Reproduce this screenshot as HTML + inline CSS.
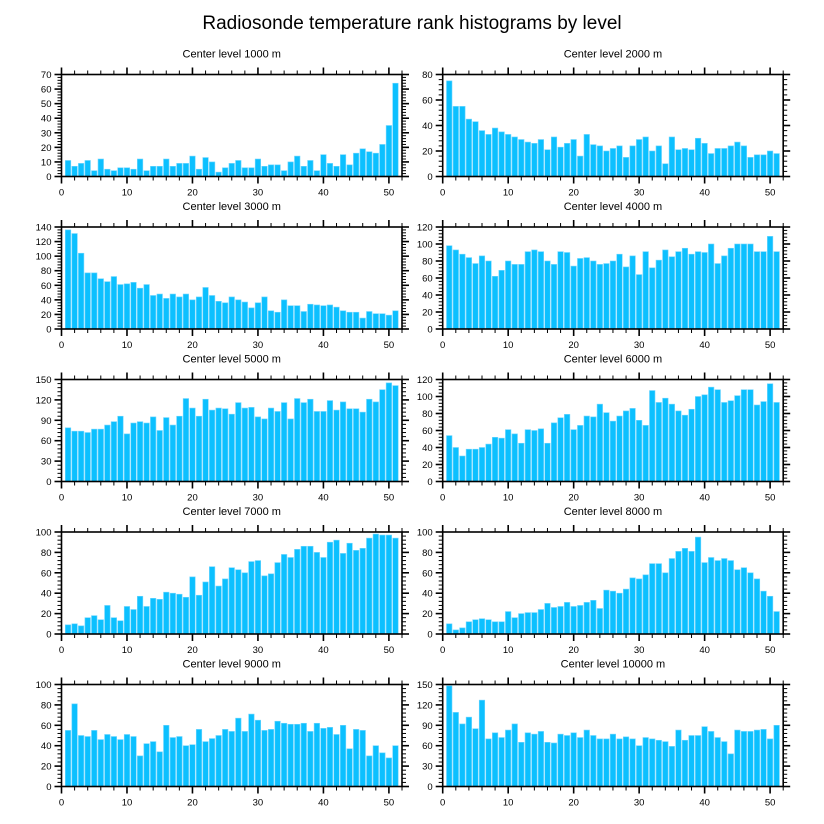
<!DOCTYPE html>
<html><head><meta charset="utf-8"><style>
body{margin:0;background:#fff;}
svg{display:block;font-family:"Liberation Sans",sans-serif;}
</style></head><body>
<svg id="chart" width="824" height="824" viewBox="0 0 824 824">
<text x="412" y="29" text-anchor="middle" font-size="19" fill="#000">Radiosonde temperature rank histograms by level</text>
</svg>
<script>
const panelTitles = ["Center level 1000 m","Center level 2000 m","Center level 3000 m","Center level 4000 m","Center level 5000 m","Center level 6000 m","Center level 7000 m","Center level 8000 m","Center level 9000 m","Center level 10000 m"];
const yMaxes = [70,80,140,120,150,120,100,100,100,150];
const yMajors = [10,20,20,20,30,20,20,20,20,30];
const xTicks = [0,10,20,30,40,50];
const lev1000 = [11,7,9,11,4,12,5,4,6,6,5,12,4,7,7,12,7,9,9,14,5,13,10,3,6,9,11,6,6,12,7,8,8,4,10,14,7,11,4,15,9,7,15,8,16,19,17,16,22,35,64];
const lev2000 = [75,55,55,45,43,36,33,38,35,33,31,29,27,26,29,21,31,23,26,29,16,33,25,24,20,22,24,15,24,29,31,20,24,10,31,21,22,21,30,26,18,22,22,24,27,24,15,17,17,20,18];
const lev3000 = [136,131,104,77,77,69,65,72,61,62,64,56,61,46,48,42,48,44,48,40,44,57,46,38,36,44,40,37,29,36,44,25,23,40,32,32,24,34,33,32,33,30,25,23,23,15,24,21,21,19,25];
const lev4000 = [98,93,88,84,77,86,80,62,69,80,76,76,91,93,91,80,76,91,90,74,83,84,80,76,77,80,88,73,86,64,91,72,81,93,85,91,95,88,91,90,100,77,86,95,100,100,100,91,91,109,91];
const lev5000 = [79,74,74,72,77,77,83,88,96,70,86,88,86,95,75,94,83,96,122,108,96,121,105,108,107,99,116,108,109,95,92,108,103,116,92,122,116,121,103,103,119,105,117,107,107,102,121,117,135,145,141];
const lev6000 = [54,40,30,38,38,40,44,52,51,61,56,45,61,60,62,45,69,75,79,61,66,77,76,91,81,71,77,83,86,72,66,107,93,98,91,83,78,85,100,102,111,108,93,95,101,108,108,90,94,115,93];
const lev7000 = [9,10,8,16,18,14,28,16,13,27,24,37,27,35,34,41,40,39,36,56,38,51,66,47,54,65,63,60,71,72,57,59,70,78,75,83,86,86,80,75,90,92,79,89,82,84,94,98,97,97,94];
const lev8000 = [10,4,6,12,14,15,14,12,12,22,16,20,21,21,24,30,26,27,31,27,28,31,33,25,43,42,40,44,55,54,58,69,69,60,74,81,84,81,95,70,75,72,74,72,63,65,60,54,42,37,22];
const lev9000 = [55,81,50,49,55,46,51,49,46,51,49,30,42,44,34,60,48,49,40,41,56,44,47,50,56,54,67,54,71,65,55,56,64,62,61,61,62,54,62,57,58,51,60,37,56,55,30,40,33,28,40];
const lev10000 = [148,109,92,102,85,127,70,79,72,83,92,65,79,77,81,65,64,77,75,79,72,83,75,70,70,77,70,73,70,60,72,70,68,66,59,83,68,75,75,88,81,72,66,48,83,81,81,83,84,70,90];
const seriesList = [lev1000,lev2000,lev3000,lev4000,lev5000,lev6000,lev7000,lev8000,lev9000,lev10000];

const NS = "http://www.w3.org/2000/svg";
const svg = document.getElementById('chart');
function mk(tag, attrs, parent){const e=document.createElementNS(NS,tag);for(const k in attrs)e.setAttribute(k,attrs[k]);parent.appendChild(e);return e;}
const colLeft=[61.5,442.7], pxPerUnit=[6.56,6.58], plotW=[340.5,340.5];
const rowTop=[74.5,227,379.5,532,684.5], plotH=102, xMax=52;

for(let p=0;p<10;p++){
  const c=p%2, r=Math.floor(p/2);
  const x0=colLeft[c], y0=rowTop[r], w=plotW[c], h=plotH;
  const g=mk('g',{},svg);
  
  
  const xs=v=>x0+v*(w/xMax);
  const ys=v=>y0+h-v*(h/yMaxes[p]);
  const t=mk('text',{x:x0+w/2,y:y0-17,'text-anchor':'middle','font-size':'11',fill:'#000'},g);
  t.textContent=panelTitles[p];
  
  
  const data=seriesList[p];
  const bw=0.84*(w/xMax);
  data.forEach((v,i)=>{
    const xc=xs(i+1);
    const b=mk('rect',{x:xc-bw/2,y:ys(v),width:bw,height:ys(0)-ys(v),fill:'#0cc0ff',stroke:'#6fd6ff','stroke-width':'0.6'},g);
    
    
  });
  const frame=mk('rect',{x:x0,y:y0,width:w,height:h,fill:'none',stroke:'#000','stroke-width':'1.6'},g);
  
  
  // x ticks
  for(let v=0;v<=xMax;v+=2){
    const major=v%10===0, L=major?7:4, X=xs(v);
    mk('line',{x1:X,y1:y0,x2:X,y2:y0-L,stroke:'#000','stroke-width':major?1.6:1},g);
    mk('line',{x1:X,y1:y0+h,x2:X,y2:y0+h+L,stroke:'#000','stroke-width':major?1.6:1},g);
  }
  xTicks.forEach(v=>{
    const tl=mk('text',{x:xs(v),y:y0+h+19,'text-anchor':'middle','font-size':'9.5',fill:'#000'},g);
    tl.textContent=v;
    
    
  });
  // y ticks
  const mj=yMajors[p], mn=mj/5;
  for(let k=0;k*mn<=yMaxes[p]+1e-9;k++){
    const v=k*mn, major=k%5===0, L=major?7:4, Y=ys(v);
    mk('line',{x1:x0,y1:Y,x2:x0-L,y2:Y,stroke:'#000','stroke-width':major?1.6:1},g);
    mk('line',{x1:x0+w,y1:Y,x2:x0+w+L,y2:Y,stroke:'#000','stroke-width':major?1.6:1},g);
    if(major){
      const tl=mk('text',{x:x0-10,y:Y+3.5,'text-anchor':'end','font-size':'9.5',fill:'#000'},g);
      tl.textContent=v;
      
      
    }
  }
}
</script>
</body></html>
